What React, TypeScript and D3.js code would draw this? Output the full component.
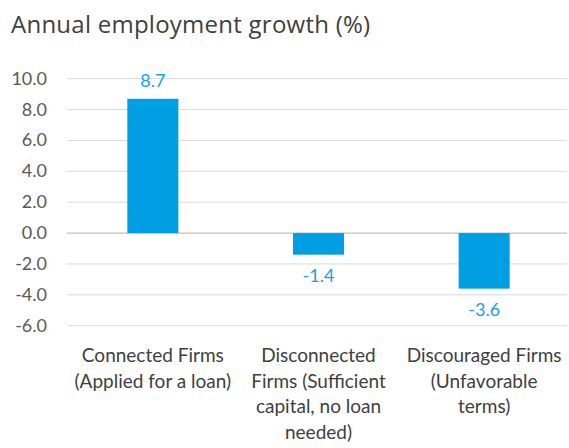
import React from "react";
import * as d3 from "d3";

const categories: string[][] = [
  ["Connected Firms", "(Applied for a loan)"],
  ["Disconnected", "Firms (Sufficient", "capital, no loan", "needed)"],
  ["Discouraged Firms", "(Unfavorable", "terms)"],
];
const values: number[] = [8.7, -1.4, -3.6];
const yTicks: number[] = [10, 8, 6, 4, 2, 0, -2, -4, -6];
const title = "Annual employment growth (%)";

const W = 569;
const H = 448;
const GRID_X0 = 67;
const X0 = 70;
const X1 = 567;
const Y_TOP = 78.7;
const Y_BOT = 325.7;

export default function App() {
  const x = d3
    .scaleBand<number>()
    .domain(values.map((_, i) => i))
    .range([X0, X1])
    .paddingInner(0.692)
    .paddingOuter(0.346);
  const y = d3.scaleLinear().domain([-6, 10]).range([Y_BOT, Y_TOP]);
  const fmt = (v: number) => d3.format(".1f")(v).replace("\u2212", "-");
  const font = "Lato, 'Open Sans', sans-serif";
  const blue = "#009FE3";
  const labelBlue = "#1BA1E2";

  return (
    <svg
      width={W}
      height={H}
      style={{ position: "absolute", left: 0, top: 0, background: "#fff" }}
      fontFamily={font}
    >
      <text
        x={11}
        y={33}
        fontSize={24}
        letterSpacing={0.25}
        fill="#404040"
        fontFamily="'Open Sans', sans-serif"
      >
        {title}
      </text>
      {yTicks.map((t) => (
        <g key={t}>
          <line
            x1={GRID_X0}
            x2={X1}
            y1={y(t)}
            y2={y(t)}
            stroke={t === 0 ? "#bfbfbf" : "#d9d9d9"}
            strokeWidth={t === 0 ? 1.3 : 1}
          />
          <text
            x={47}
            y={y(t) + 6}
            textAnchor="end"
            fontSize={18}
            fill="#595959"
          >
            {fmt(t)}
          </text>
        </g>
      ))}
      {values.map((v, i) => {
        const bx = x(i)!;
        const bw = x.bandwidth();
        const top = y(Math.max(0, v));
        const bot = y(Math.min(0, v));
        return (
          <g key={i}>
            <rect x={bx} y={top} width={bw} height={bot - top} fill={blue} />
            <text
              x={bx + bw / 2}
              y={v >= 0 ? top - 12 : bot + 27}
              textAnchor="middle"
              fontSize={18}
              fill={labelBlue}
            >
              {fmt(v)}
            </text>
          </g>
        );
      })}
      {categories.map((lines, i) => (
        <text
          key={i}
          x={x(i)! + x.bandwidth() / 2}
          textAnchor="middle"
          fontSize={19}
          fill="#404040"
        >
          {lines.map((l, j) => (
            <tspan key={j} x={x(i)! + x.bandwidth() / 2} y={362 + j * 25.5}>
              {l}
            </tspan>
          ))}
        </text>
      ))}
    </svg>
  );
}
